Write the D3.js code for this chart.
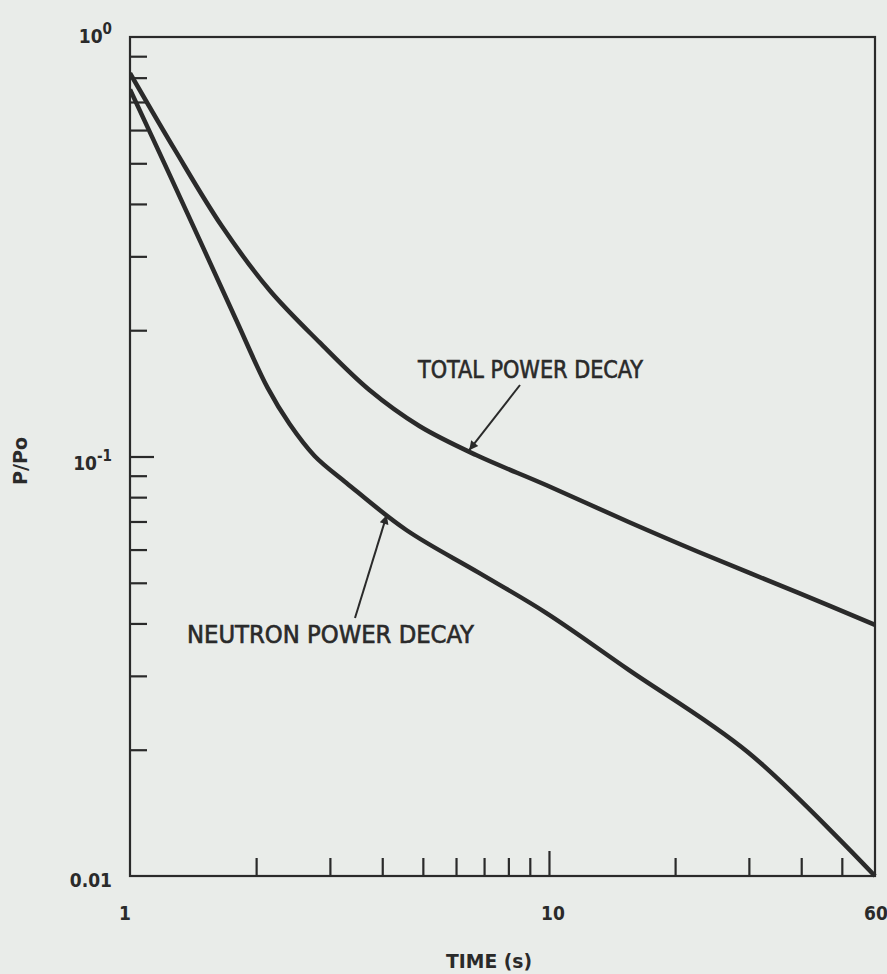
<!DOCTYPE html>
<html>
<head>
<meta charset="utf-8">
<script src="https://cdn.jsdelivr.net/npm/d3@7"></script>
<style>
  html, body { margin: 0; padding: 0; background: #e9ece9; }
  svg { display: block; }
</style>
</head>
<body>
<svg id="chart" width="887" height="974"></svg>
<script>
// ---- data ----
const totalTime  = [1.0, 1.28, 1.656, 2.154, 2.835, 3.728, 4.904, 6.70, 9.84, 15.5, 22.76, 39.4, 60.0];
const totalPower = [0.82, 0.538, 0.3543, 0.249, 0.187, 0.144, 0.1182, 0.1008, 0.0855, 0.0698, 0.0592, 0.0473, 0.0397];

const neutronTime  = [1.0, 1.232, 1.492, 1.788, 2.131, 2.404, 2.758, 3.286, 4.565, 6.81, 9.84, 15.5, 29.9, 60.0];
const neutronPower = [0.75, 0.479, 0.316, 0.2127, 0.1457, 0.1195, 0.1003, 0.0865, 0.0668, 0.0528, 0.0424, 0.031, 0.0197, 0.01];

const xMinorTicks = [2, 3, 4, 5, 6, 7, 8, 9, 20, 30, 40, 50];
const xMajorTicks = [10];
const yMinorTicks = [0.02, 0.03, 0.04, 0.05, 0.06, 0.07, 0.08, 0.09, 0.2, 0.3, 0.4, 0.5, 0.6, 0.7, 0.8, 0.9];
const yMajorTicks = [0.1];

const xTickLabels = [1, 10, 60];
const xTickText   = ["1", "10", "60"];
const yTickValues = [1, 0.1, 0.01];
const yTickBase   = ["10", "10", "0.01"];
const yTickSup    = ["0", "-1", ""];

const xTitle = "TIME (s)";
const yTitle = "P/Po";
const totalLabel = "TOTAL POWER DECAY";
const neutronLabel = "NEUTRON POWER DECAY";

// ---- layout ----
const L = 130, R = 875, T = 37, B = 876;
const ink = "#2a2a2a";
const font = "'DejaVu Sans Condensed', 'DejaVu Sans', sans-serif";

const svg = d3.select("#chart");
const x = d3.scaleLog().domain([1, 60]).range([L, R]);
const y = d3.scaleLog().domain([0.01, 1]).range([B, T]);

// frame
svg.append("rect")
  .attr("x", L).attr("y", T).attr("width", R - L).attr("height", B - T)
  .attr("fill", "none").attr("stroke", ink).attr("stroke-width", 2.2);

function styleAxis(g) {
  g.select(".domain").remove();
  g.selectAll(".tick line").attr("stroke", ink).attr("stroke-width", 2.2);
  g.selectAll(".tick text").remove();
}

// x ticks (inward, from bottom)
svg.append("g").attr("transform", `translate(0,${B})`)
  .call(d3.axisBottom(x).tickValues(xMinorTicks).tickSize(-18).tickFormat(""))
  .call(styleAxis);
svg.append("g").attr("transform", `translate(0,${B})`)
  .call(d3.axisBottom(x).tickValues(xMajorTicks).tickSize(-25).tickFormat(""))
  .call(styleAxis);

// y ticks (inward, from left)
svg.append("g").attr("transform", `translate(${L},0)`)
  .call(d3.axisLeft(y).tickValues(yMinorTicks).tickSize(-17).tickFormat(""))
  .call(styleAxis);
svg.append("g").attr("transform", `translate(${L},0)`)
  .call(d3.axisLeft(y).tickValues(yMajorTicks).tickSize(-24).tickFormat(""))
  .call(styleAxis);

// x tick labels
const xLabelDx = [-5, 4, 1];
xTickLabels.forEach((v, i) => {
  svg.append("text")
    .attr("x", x(v) + xLabelDx[i]).attr("y", 920)
    .attr("text-anchor", "middle")
    .attr("font-family", font).attr("font-weight", "bold").attr("font-size", 19)
    .attr("fill", ink)
    .text(xTickText[i]);
});

// y tick labels
const yLabelDy = [6, 13, 11];
yTickValues.forEach((v, i) => {
  const t = svg.append("text")
    .attr("x", 112).attr("y", y(v) + yLabelDy[i])
    .attr("text-anchor", "end")
    .attr("font-family", font).attr("font-weight", "bold").attr("font-size", 19)
    .attr("fill", ink);
  t.append("tspan").text(yTickBase[i]);
  if (yTickSup[i]) {
    t.append("tspan").attr("dy", -9).attr("font-size", 15).text(yTickSup[i]);
  }
});

// axis titles
svg.append("text")
  .attr("x", 489).attr("y", 968).attr("text-anchor", "middle")
  .attr("font-family", font).attr("font-weight", "bold").attr("font-size", 20).attr("fill", ink)
  .attr("textLength", 86).attr("lengthAdjust", "spacingAndGlyphs")
  .text(xTitle);
svg.append("text")
  .attr("transform", "translate(27,461) rotate(-90)").attr("text-anchor", "middle")
  .attr("font-family", font).attr("font-weight", "bold").attr("font-size", 20).attr("fill", ink)
  .attr("textLength", 48).attr("lengthAdjust", "spacingAndGlyphs")
  .text(yTitle);

// curves
const line = d3.line().x(d => x(d[0])).y(d => y(d[1])).curve(d3.curveCatmullRom.alpha(0.5));
svg.append("clipPath").attr("id", "plotclip")
  .append("rect").attr("x", L).attr("y", T).attr("width", R - L + 2).attr("height", B - T + 2);

svg.append("path")
  .datum(d3.zip(totalTime, totalPower))
  .attr("d", line).attr("fill", "none")
  .attr("stroke", ink).attr("stroke-width", 4.5).attr("stroke-linejoin", "round")
  .attr("clip-path", "url(#plotclip)");
svg.append("path")
  .datum(d3.zip(neutronTime, neutronPower))
  .attr("d", line).attr("fill", "none")
  .attr("stroke", ink).attr("stroke-width", 4.5).attr("stroke-linejoin", "round")
  .attr("clip-path", "url(#plotclip)");

// annotation arrows
const defs = svg.append("defs");
defs.append("marker").attr("id", "ah")
  .attr("viewBox", "0 0 10 10").attr("refX", 10).attr("refY", 5)
  .attr("markerWidth", 16).attr("markerHeight", 9).attr("markerUnits", "userSpaceOnUse")
  .attr("orient", "auto")
  .append("path").attr("d", "M0,0 L10,5 L0,10 Z").attr("fill", ink);

svg.append("line")
  .attr("x1", 520).attr("y1", 385).attr("x2", x(6.45)).attr("y2", y(0.1035))
  .attr("stroke", ink).attr("stroke-width", 2).attr("marker-end", "url(#ah)");
svg.append("line")
  .attr("x1", 355).attr("y1", 618).attr("x2", x(4.1)).attr("y2", y(0.0725))
  .attr("stroke", ink).attr("stroke-width", 2).attr("marker-end", "url(#ah)");

svg.append("text")
  .attr("x", 418).attr("y", 378)
  .attr("font-family", font).attr("font-size", 24).attr("fill", ink)
  .attr("stroke", ink).attr("stroke-width", 0.6)
  .attr("textLength", 225).attr("lengthAdjust", "spacingAndGlyphs")
  .text(totalLabel);
svg.append("text")
  .attr("x", 187).attr("y", 643)
  .attr("font-family", font).attr("font-size", 24).attr("fill", ink)
  .attr("stroke", ink).attr("stroke-width", 0.6)
  .attr("textLength", 287).attr("lengthAdjust", "spacingAndGlyphs")
  .text(neutronLabel);
</script>
</body>
</html>
